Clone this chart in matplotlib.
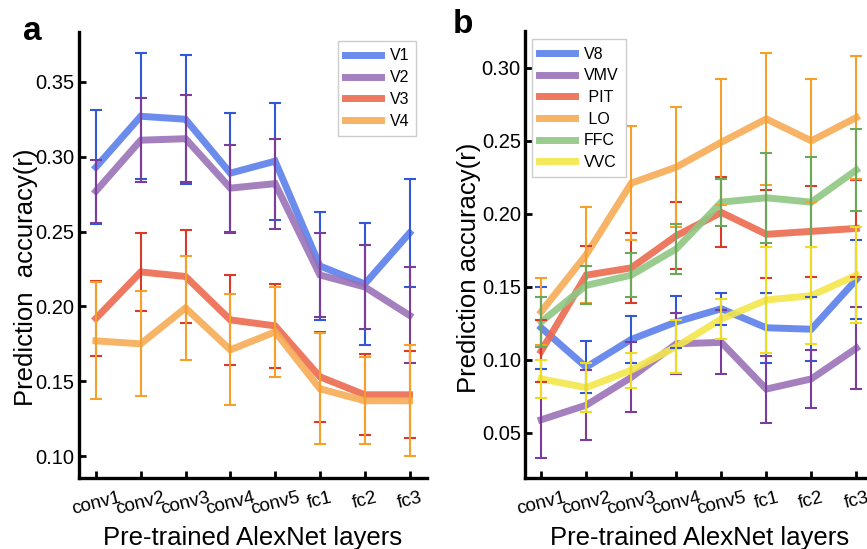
import matplotlib
matplotlib.use("Agg")
import matplotlib.pyplot as plt
import numpy as np

plt.rcParams['font.family'] = ['Liberation Sans', 'DejaVu Sans']

layers = ["conv1", "conv2", "conv3", "conv4", "conv5", "fc1", "fc2", "fc3"]

# Panel a
a_names = ["V1", "V2", "V3", "V4"]
V1 = [0.293, 0.327, 0.325, 0.289, 0.297, 0.227, 0.215, 0.249]
V1_err = [0.038, 0.042, 0.043, 0.040, 0.039, 0.036, 0.041, 0.036]
V2 = [0.277, 0.311, 0.312, 0.279, 0.282, 0.221, 0.213, 0.194]
V2_err = [0.021, 0.028, 0.029, 0.029, 0.030, 0.028, 0.028, 0.032]
V3 = [0.192, 0.223, 0.220, 0.191, 0.187, 0.153, 0.141, 0.141]
V3_err = [0.025, 0.026, 0.031, 0.030, 0.028, 0.030, 0.027, 0.029]
V4 = [0.177, 0.175, 0.199, 0.171, 0.183, 0.145, 0.137, 0.137]
V4_err = [0.039, 0.035, 0.035, 0.037, 0.030, 0.037, 0.029, 0.037]

# Panel b
b_names = ["V8", "VMV", " PIT", " LO", "FFC", "VVC"]
V8 = [0.122, 0.095, 0.114, 0.126, 0.135, 0.122, 0.121, 0.155]
V8_err = [0.028, 0.018, 0.016, 0.018, 0.011, 0.024, 0.022, 0.027]
VMV = [0.059, 0.069, 0.088, 0.111, 0.112, 0.080, 0.087, 0.108]
VMV_err = [0.026, 0.024, 0.024, 0.021, 0.022, 0.023, 0.020, 0.028]
PIT = [0.106, 0.158, 0.163, 0.185, 0.201, 0.186, 0.188, 0.190]
PIT_err = [0.021, 0.020, 0.024, 0.023, 0.024, 0.030, 0.031, 0.033]
LO = [0.133, 0.172, 0.221, 0.232, 0.249, 0.265, 0.250, 0.266]
LO_err = [0.023, 0.033, 0.039, 0.041, 0.043, 0.045, 0.042, 0.042]
FFC = [0.126, 0.151, 0.158, 0.176, 0.208, 0.211, 0.208, 0.230]
FFC_err = [0.017, 0.013, 0.015, 0.017, 0.016, 0.031, 0.031, 0.028]
VVC = [0.087, 0.081, 0.093, 0.109, 0.128, 0.141, 0.144, 0.158]
VVC_err = [0.013, 0.017, 0.012, 0.018, 0.014, 0.036, 0.033, 0.033]

line_cols = {"blue": "#5b80ea", "purple": "#9a72b8", "red": "#ec6a50",
             "orange": "#f7ab55", "green": "#8fc783", "yellow": "#f3e64a"}
err_cols = {"blue": "#3258d6", "purple": "#7a3d9c", "red": "#dc3a28",
            "orange": "#f4a02a", "green": "#6aa85a", "yellow": "#eedc20"}

fig = plt.figure(figsize=(8.67, 5.49), dpi=100)

def style_ax(ax):
    for s in ["top", "right"]:
        ax.spines[s].set_visible(False)
    for s in ["left", "bottom"]:
        ax.spines[s].set_linewidth(2.4)
    ax.tick_params(axis="y", direction="in", length=5, width=2, labelsize=14.5, pad=3)
    ax.tick_params(axis="x", direction="in", length=5, width=2, labelsize=13.5, pad=8)
    ax.set_xticks(range(len(layers)))
    ax.set_xticklabels(layers, rotation=14)
    ax.set_xlabel("Pre-trained AlexNet layers", fontsize=18.5, labelpad=6)

def draw(ax, series, names, colors):
    x = np.arange(len(layers))
    for (vals, errs), name, c in zip(series, names, colors):
        ax.plot(x, vals, color=line_cols[c], lw=5, alpha=0.9, label=name,
                solid_joinstyle="miter", zorder=2)
        ax.errorbar(x, vals, yerr=errs, fmt="none", ecolor=err_cols[c],
                    elinewidth=1.5, capsize=4.5, capthick=1.5, zorder=3)

leg_kw = dict(fontsize=11.5, handlelength=2.25, handletextpad=0.55,
              labelspacing=0.42, borderpad=0.45, borderaxespad=0.0,
              fancybox=False, edgecolor="#cccccc", framealpha=1)

# Panel a
axa = fig.add_axes([0.091, 0.129, 0.401, 0.812])
draw(axa, [(V1, V1_err), (V2, V2_err), (V3, V3_err), (V4, V4_err)], a_names,
     ["blue", "purple", "red", "orange"])
axa.set_xlim(-0.38, 7.38)
axa.set_ylim(0.0853, 0.383)
axa.set_yticks([0.10, 0.15, 0.20, 0.25, 0.30, 0.35])
axa.set_yticklabels(["0.10", "0.15", "0.20", "0.25", "0.30", "0.35"])
style_ax(axa)
axa.set_ylabel("Prediction  accuracy(r)", fontsize=18.5)
axa.yaxis.set_label_coords(-0.118, 0.45)
axa.legend(loc="upper right", bbox_to_anchor=(0.971, 0.980), **leg_kw)
fig.text(0.026, 0.928, "a", fontsize=24, fontweight="bold")

# Panel b
axb = fig.add_axes([0.6055, 0.129, 0.403, 0.814])
draw(axb, [(V8, V8_err), (VMV, VMV_err), (PIT, PIT_err), (LO, LO_err),
           (FFC, FFC_err), (VVC, VVC_err)], b_names,
     ["blue", "purple", "red", "orange", "green", "yellow"])
axb.set_xlim(-0.36, 7.4)
axb.set_ylim(0.019, 0.325)
axb.set_yticks([0.05, 0.10, 0.15, 0.20, 0.25, 0.30])
axb.set_yticklabels(["0.05", "0.10", "0.15", "0.20", "0.25", "0.30"])
style_ax(axb)
axb.set_ylabel("Prediction accuracy(r)", fontsize=18.5)
axb.yaxis.set_label_coords(-0.126, 0.47)
axb.legend(loc="upper left", bbox_to_anchor=(0.02, 0.982), **leg_kw)
fig.text(0.522, 0.94, "b", fontsize=24, fontweight="bold")

fig.savefig("out.png", dpi=100)
